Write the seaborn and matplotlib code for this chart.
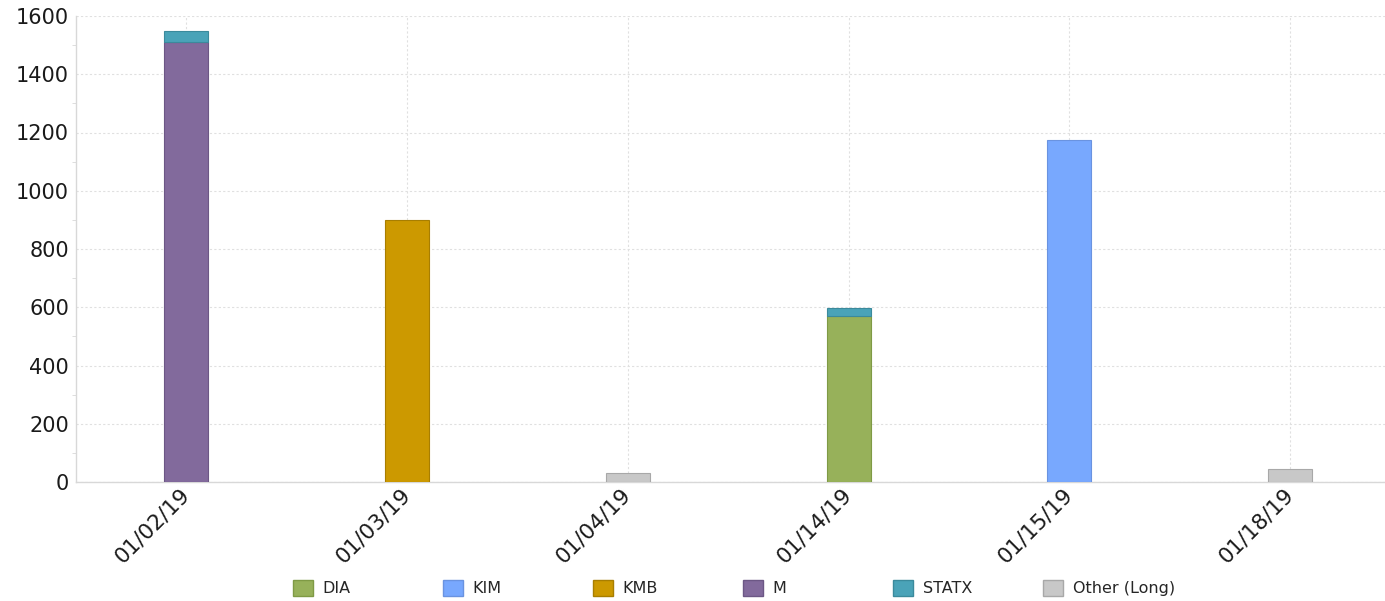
import matplotlib
matplotlib.use("Agg")
import matplotlib.pyplot as plt
from matplotlib.patches import Patch
from matplotlib.ticker import MultipleLocator
import seaborn as sns
import pandas as pd
import numpy as np

# Chart data
dates = ["01/02/19", "01/03/19", "01/04/19", "01/14/19", "01/15/19", "01/18/19"]
series_names = ["DIA", "KIM", "KMB", "M", "STATX", "Other (Long)"]
dia = [0, 0, 0, 570, 0, 0]
kim = [0, 0, 0, 0, 1175, 0]
kmb = [0, 900, 0, 0, 0, 0]
m = [1510, 0, 0, 0, 0, 0]
statx = [40, 0, 0, 28, 0, 0]
other = [0, 0, 30, 0, 0, 45]
colors = ["#97b15a", "#78a8fe", "#cc9900", "#826a9c", "#4aa3b8", "#c8c8c8"]
edges = ["#7f9a45", "#6a93e0", "#a87e00", "#6c5785", "#3b8a9c", "#a8a8a8"]

sns.set_style("white")
plt.rcParams["font.family"] = ["DejaVu Sans"]

fig = plt.figure(figsize=(13.85, 6.01), dpi=100)
ax = fig.add_axes([76 / 1385, 119 / 601, 1 - 76 / 1385, 466 / 601])

values = [dia, kim, kmb, m, statx, other]
bottom = np.zeros(len(dates))
for name, vals, col, ec in zip(series_names, values, colors, edges):
    df = pd.DataFrame({"date": dates, "value": vals})
    sns.barplot(data=df, x="date", y="value", bottom=bottom, color=col, saturation=1,
                edgecolor=ec, linewidth=0.8, width=0.2, ax=ax, zorder=3)
    bottom = bottom + np.array(vals)

# hide the empty (zero-height) stack segments so their edges don't show
for p in ax.patches:
    if p.get_height() == 0:
        p.set_visible(False)

ax.set_xlim(-0.5, 5.43)
ax.set_ylim(0, 1600)
ax.yaxis.set_major_locator(MultipleLocator(200))
ax.yaxis.set_minor_locator(MultipleLocator(100))
ax.grid(True, which="major", axis="both", color="#e0e0e0", linestyle=(0, (2, 2)), linewidth=0.8, zorder=0)
ax.set_xlabel("")
ax.set_ylabel("")

for side in ["top", "right"]:
    ax.spines[side].set_visible(False)
for side in ["left", "bottom"]:
    ax.spines[side].set_color("#d8d8d8")
    ax.spines[side].set_linewidth(1.0)

ax.tick_params(axis="y", which="major", length=4, color="#d8d8d8", labelsize=15, labelcolor="#1a1a1a", pad=1)
ax.tick_params(axis="y", which="minor", length=3, color="#d8d8d8", left=True)
ax.tick_params(axis="x", length=4, color="#d8d8d8", labelsize=15.5, labelcolor="#1a1a1a", pad=3)
ax.set_xticks(range(len(dates)))
ax.set_xticklabels(dates, rotation=45, ha="right", va="center", rotation_mode="anchor")

# Legend entries, evenly spaced along the bottom
for i, (name, col, ec) in enumerate(zip(series_names, colors, edges)):
    x0 = (293 + 150 * i) / 1385
    fig.legend(handles=[Patch(facecolor=col, edgecolor=ec, label=name)],
               loc="center left", bbox_to_anchor=(x0, 13 / 601), frameon=False,
               fontsize=11.5, handlelength=1.25, handleheight=1.25, handletextpad=0.6,
               borderaxespad=0, borderpad=0)

fig.savefig("out.png", dpi=100)
